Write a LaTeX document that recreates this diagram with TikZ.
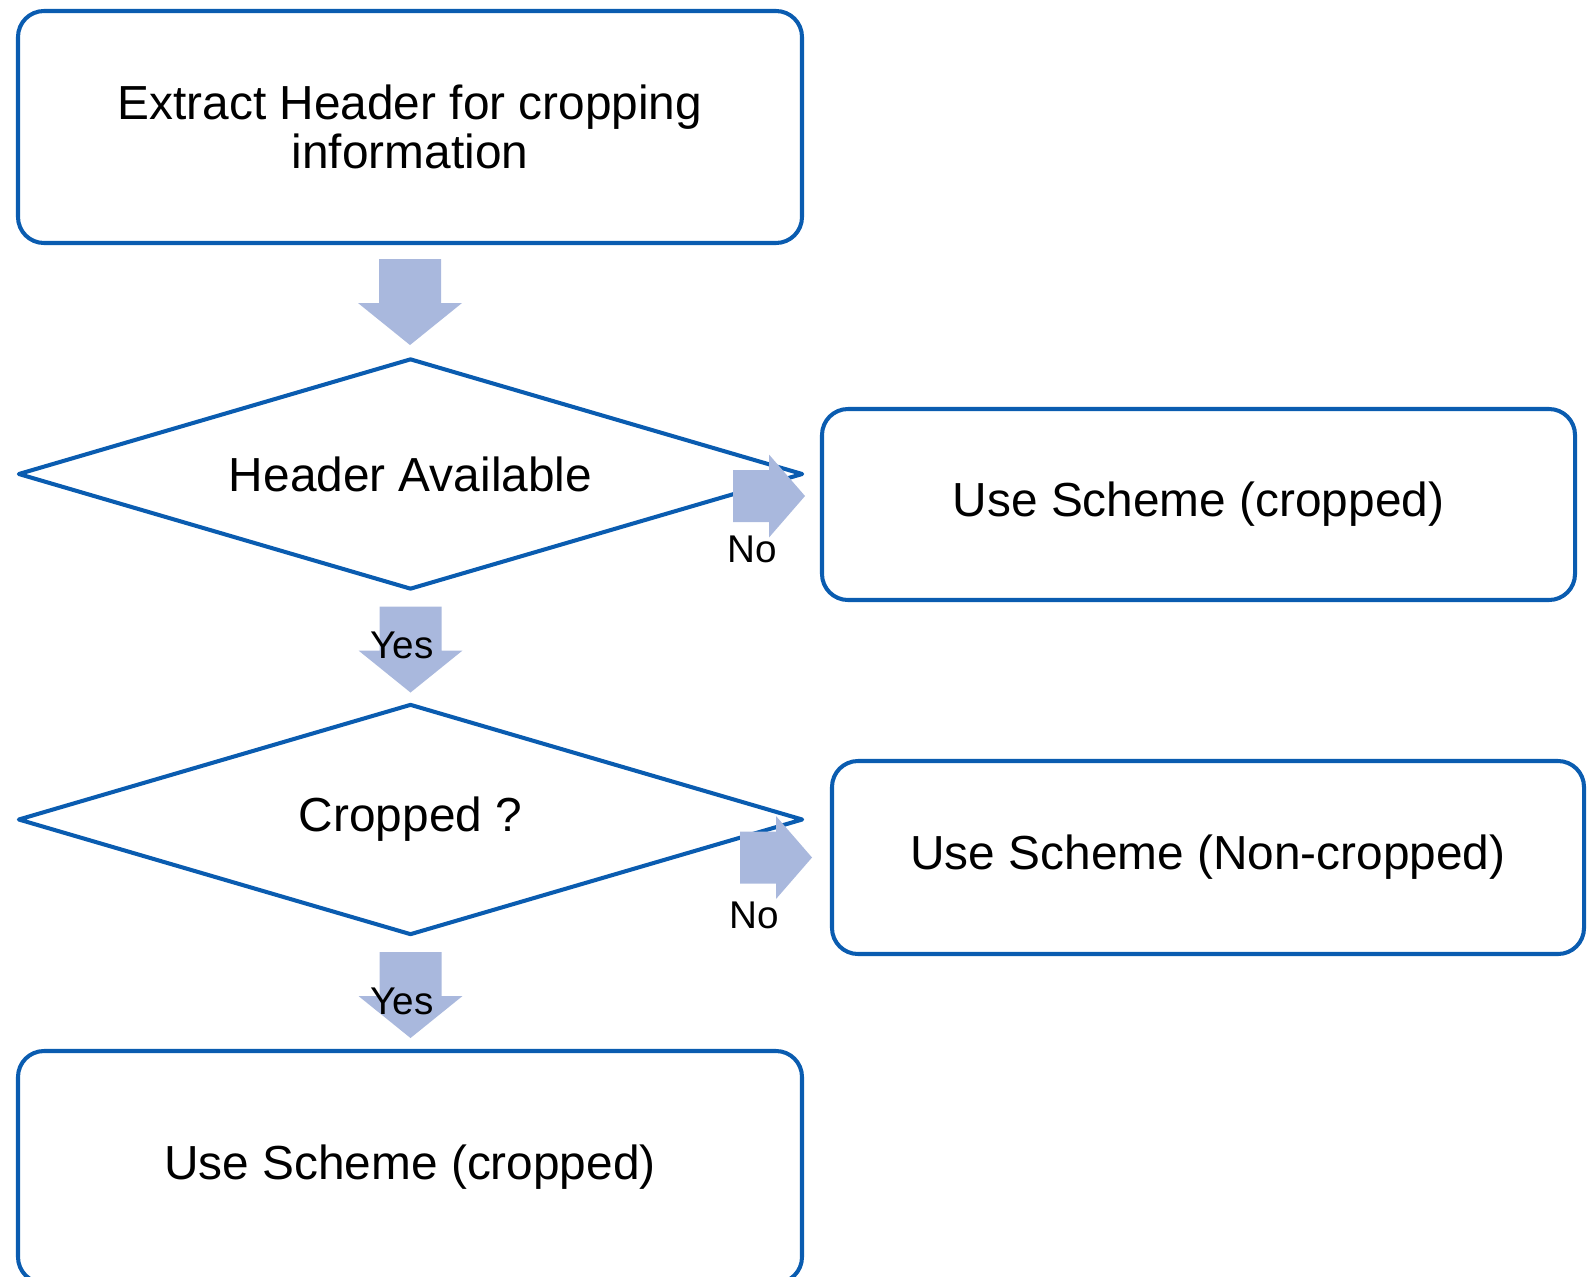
\documentclass[tikz,border=0pt]{standalone}
\usepackage{fontspec}
\setmainfont{Liberation Sans}
\usepackage{tikz}
\usetikzlibrary{shapes.geometric, calc}
\usetikzlibrary{positioning}

\definecolor{boxblue}{RGB}{10,92,176}
\definecolor{arrowblue}{RGB}{169,184,221}

\tikzset{
  stepbox/.style={draw=boxblue, line width=1.15pt, rounded corners=0.26cm, align=center,
    inner sep=0pt, font=\fontsize{13.6}{14}\selectfont},
  decision/.style={diamond, draw=boxblue, line width=1.15pt, line join=round, aspect=3.4,
    inner sep=0pt, minimum width=7.85cm, minimum height=2.31cm, font=\fontsize{13.6}{14}\selectfont},
  answer/.style={inner sep=0pt, font=\fontsize{11}{13}\selectfont},
  downarrow/.pic={\fill[arrowblue] (-0.31,0) -- (0.31,0) -- (0.31,-0.44) -- (0.52,-0.44)
    -- (0,-0.86) -- (-0.52,-0.44) -- (-0.31,-0.44) -- cycle;},
  rightarrow/.pic={\fill[arrowblue] (0,0.26) -- (0.36,0.26) -- (0.36,0.415) -- (0.72,0)
    -- (0.36,-0.415) -- (0.36,-0.26) -- (0,-0.26) -- cycle;}
}

\begin{document}
\begin{tikzpicture}
  \useasboundingbox (0,0) rectangle (15.94,-12.76);
  \clip (0,0) rectangle (15.94,-12.76);

  % boxes and decisions
  \node[stepbox, minimum width=7.84cm, minimum height=2.32cm] (extract) at (4.10,-1.27)
    {Extract Header for cropping\\information};
  \node[decision] (available) at (4.105,-4.74) {Header Available};
  \node[stepbox, minimum width=7.53cm, minimum height=1.91cm] (schemeA) at (11.985,-5.045)
    {Use Scheme (cropped)};
  \node[decision] (cropped) at (4.105,-8.195) {Cropped ?};
  \node[stepbox, minimum width=7.52cm, minimum height=1.93cm] (schemeB) at (12.08,-8.575)
    {Use Scheme (Non-cropped)};
  \node[stepbox, minimum width=7.84cm, minimum height=2.32cm] (schemeC) at (4.10,-11.67)
    {Use Scheme (cropped)};

  % block arrows
  \pic at ($(extract.south)+(0,-0.14)$) {downarrow};
  \pic at ($(available.south)+(0,-0.15)$) {downarrow};
  \pic at ($(cropped.south)+(0,-0.15)$) {downarrow};
  \pic at (7.33,-4.96) {rightarrow};
  \pic at (7.40,-8.575) {rightarrow};

  % answers
  \node[answer] (yesA) at (4.02,-6.45) {Yes};
  \node[answer] (noA) at (7.52,-5.49) {No};
  \node[answer] (yesB) at (4.02,-10.01) {Yes};
  \node[answer] (noB) at (7.54,-9.15) {No};
\end{tikzpicture}
\end{document}
